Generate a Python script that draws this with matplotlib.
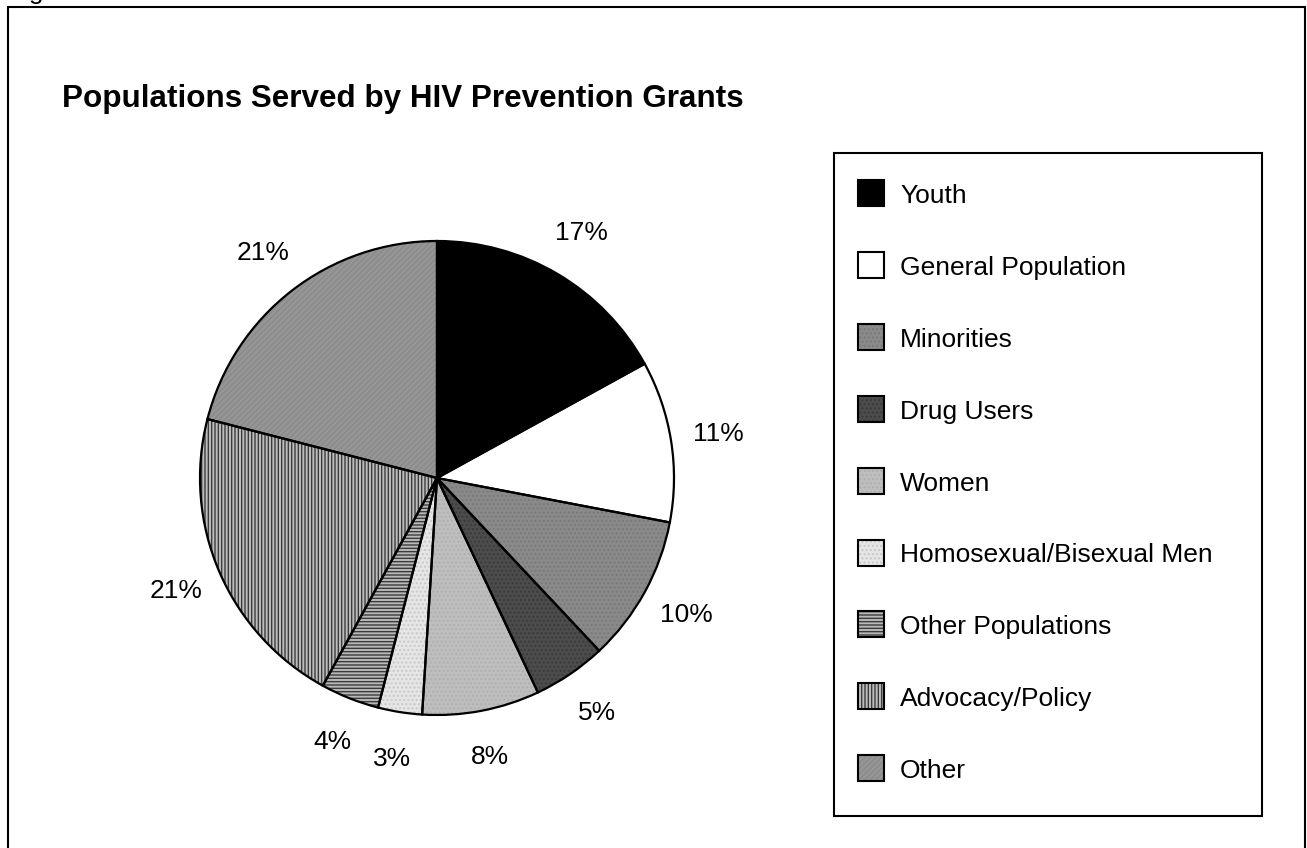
import matplotlib

matplotlib.use("Agg")
import matplotlib.pyplot as plt
from matplotlib.patches import Rectangle

# Share of grants by population served (percent)
categories = [
    "Youth",
    "General Population",
    "Minorities",
    "Drug Users",
    "Women",
    "Homosexual/Bisexual Men",
    "Other Populations",
    "Advocacy/Policy",
    "Other",
]
shares = [17, 11, 10, 5, 8, 3, 4, 21, 21]

# Grayscale fills with print-style patterns
fills = ["#000000", "#ffffff", "#8a8a8a", "#4c4c4c", "#bebebe", "#e6e6e6", "#b8b8b8", "#bdbdbd", "#969696"]
hatches = ["", "", "....", "....", "....", "....", "-----", "|||||", "//////"]
hatch_colors = ["#000000", "#ffffff", "#7a7a7a", "#3a3a3a", "#b0b0b0", "#c8c8c8", "#3c3c3c", "#3c3c3c", "#8a8a8a"]

W, H = 1307, 848
plt.rcParams["font.family"] = ["Liberation Sans", "DejaVu Sans"]
plt.rcParams["hatch.linewidth"] = 1.0

fig = plt.figure(figsize=(W / 100, H / 100), dpi=100)


def fx(px):
    return px / W


def fy(py):
    return 1 - py / H


# page frame (runs off the bottom edge)
fig.add_artist(Rectangle((fx(8), fy(870)), fx(1305) - fx(8), fy(7) - fy(870),
                         transform=fig.transFigure, fill=False, ec="black", lw=1.5))
# caption above the frame, mostly cut off
fig.text(fx(8), fy(-1), "Figure", fontsize=19, va="baseline", ha="left")

fig.text(fx(62), fy(107), "Populations Served by HIV Prevention Grants",
         fontsize=22.6, fontweight="bold", va="baseline", ha="left")

# pie
cx, cy, r = 437, 478, 237
half = 1.4 * r
ax = fig.add_axes([fx(cx - half), fy(cy + half), 2 * half / W, 2 * half / H])
wedges, _, pct_texts = ax.pie(
    shares, startangle=90, counterclock=False, radius=1,
    autopct=lambda p: f"{p:.0f}%", pctdistance=1.2,
    textprops=dict(fontsize=19), wedgeprops=dict(linewidth=0),
)
for w, fc, h, hc in zip(wedges, fills, hatches, hatch_colors):
    w.set_facecolor(fc)
    w.set_edgecolor(hc)
    w.set_hatch(h)
ax.pie(shares, startangle=90, counterclock=False, radius=1,
       wedgeprops=dict(fill=False, edgecolor="black", linewidth=1.6))
ax.set_xlim(-1.4, 1.4)
ax.set_ylim(-1.4, 1.4)
ax.set_aspect("equal")
ax.axis("off")

# legend box
fig.add_artist(Rectangle((fx(834), fy(816)), fx(1262) - fx(834), fy(153) - fy(816),
                         transform=fig.transFigure, fill=False, ec="black", lw=1.5))
sq = 26
for i, (name, fc, h, hc) in enumerate(zip(categories, fills, hatches, hatch_colors)):
    yc = 196 + 71.9 * i
    fig.add_artist(Rectangle((fx(858), fy(yc - 3 + sq / 2)), sq / W, sq / H,
                             transform=fig.transFigure, fc=fc, ec=hc, hatch=h, lw=0))
    fig.add_artist(Rectangle((fx(858), fy(yc - 3 + sq / 2)), sq / W, sq / H,
                             transform=fig.transFigure, fill=False, ec="black", lw=1.5))
    fig.text(fx(900), fy(yc), name, fontsize=19, va="center", ha="left")

fig.savefig("out.png", dpi=100, facecolor="white")
